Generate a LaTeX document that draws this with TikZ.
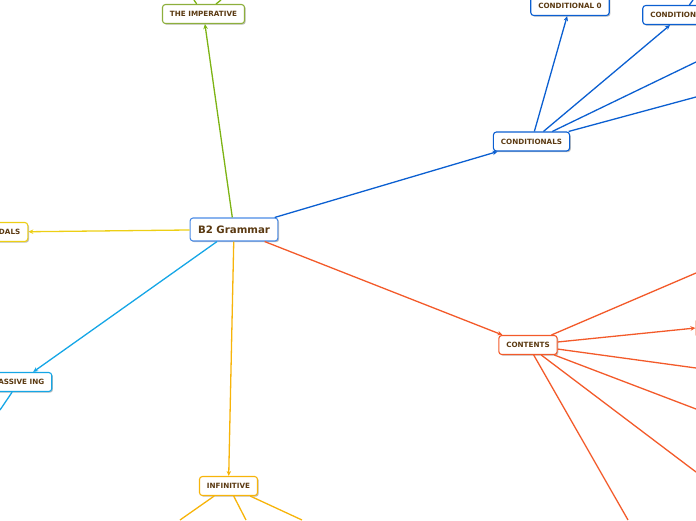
\documentclass[tikz,border=0pt]{standalone}
\usepackage{fontspec}
\newfontfamily\dvs{DejaVu Sans}
\usetikzlibrary{arrows.meta,shadows}
\definecolor{txt}{HTML}{5B3A12}
\definecolor{cmain}{HTML}{4A8BE6}
\definecolor{cgreen}{HTML}{7DB314}
\definecolor{cgreenb}{HTML}{8DAF3C}
\definecolor{cblue}{HTML}{0B5FD1}
\definecolor{cyel}{HTML}{EDCF14}
\definecolor{ccyan}{HTML}{15A6E6}
\definecolor{corange}{HTML}{F7B40A}
\definecolor{cred}{HTML}{F35A2A}
\tikzset{
  topic/.style={draw=#1, line width=1.1pt, rounded corners=3pt, fill=white,
    text=txt, font=\dvs\bfseries\fontsize{7.2}{8}\selectfont,
    inner xsep=7.5pt, minimum height=19pt,
    drop shadow={shadow xshift=1.2pt, shadow yshift=-1.2pt, opacity=0.25, fill=black}},
  central/.style={topic=#1, font=\dvs\bfseries\fontsize{10.2}{12}\selectfont,
    inner xsep=8pt, minimum height=23pt},
  link/.style={draw=#1, line width=1.3pt},
  arr/.style={link=#1, -{Stealth[length=5pt,width=4.5pt]}}
}
\begin{document}
\begin{tikzpicture}[x=1pt,y=-1pt]
\useasboundingbox (0,0) rectangle (696,520);
\clip (0,0) rectangle (696,520);
% nodes
\node[central=cmain] (b2) at (234,229.5) {B2 Grammar};
\node[topic=cgreenb] (imp) at (203.5,14) {THE IMPERATIVE};
\node[topic=cblue] (cond) at (531.5,141.5) {CONDITIONALS};
\node[topic=cblue] (c0) at (570,6) {CONDITIONAL 0};
\node[topic=cblue] (c1) at (682,15) {CONDITIONAL 1};
\node[topic=cyel] (mod) at (3,232) {MODALS};
\node[topic=ccyan] (pas) at (19,382) {PASSIVE ING};
\node[topic=corange] (inf) at (228.5,486) {INFINITIVE};
\node[topic=cred] (cont) at (528,345) {CONTENTS};
\node[draw=cred, line width=1.1pt, rounded corners=3pt, fill=white,
  minimum width=40pt, minimum height=19pt, anchor=west] (cr) at (695.5,328) {};
% free ends
\coordinate (i1) at (194,0);
\coordinate (i2) at (221,0);
\coordinate (k1) at (693,0);
\coordinate (d1) at (696,62);
\coordinate (d2) at (696,97);
\coordinate (p1) at (0,410);
\coordinate (n1) at (180,520);
\coordinate (n2) at (246,520);
\coordinate (n3) at (302,520);
\coordinate (t1) at (696,273);
\coordinate (t3) at (696,368);
\coordinate (t4) at (696,409);
\coordinate (t5) at (696,472);
\coordinate (t6) at (628,520);
% connectors from centre
\draw[arr=cgreen] (b2) -- (imp);
\draw[arr=cblue] (b2) -- (cond);
\draw[arr=cyel] (b2) -- (mod);
\draw[arr=ccyan] (b2) -- (pas);
\draw[arr=corange] (b2) -- (inf);
\draw[arr=cred] (b2) -- (cont);
% imperative children
\draw[link=cgreen] (imp) -- (i1);
\draw[link=cgreen] (imp) -- (i2);
% conditionals
\draw[arr=cblue] (cond) -- (c0);
\draw[arr=cblue] (cond) -- (c1);
\draw[link=cblue] (cond) -- (d1);
\draw[link=cblue] (cond) -- (d2);
\draw[link=cblue] (c1) -- (k1);
% passive
\draw[link=ccyan] (pas) -- (p1);
% infinitive
\draw[link=corange] (inf) -- (n1);
\draw[link=corange] (inf) -- (n2);
\draw[link=corange] (inf) -- (n3);
% contents
\draw[link=cred] (cont) -- (t1);
\draw[arr=cred] (cont) -- (cr.west);
\draw[link=cred] (cont) -- (t3);
\draw[link=cred] (cont) -- (t4);
\draw[link=cred] (cont) -- (t5);
\draw[link=cred] (cont) -- (t6);
\end{tikzpicture}
\end{document}
